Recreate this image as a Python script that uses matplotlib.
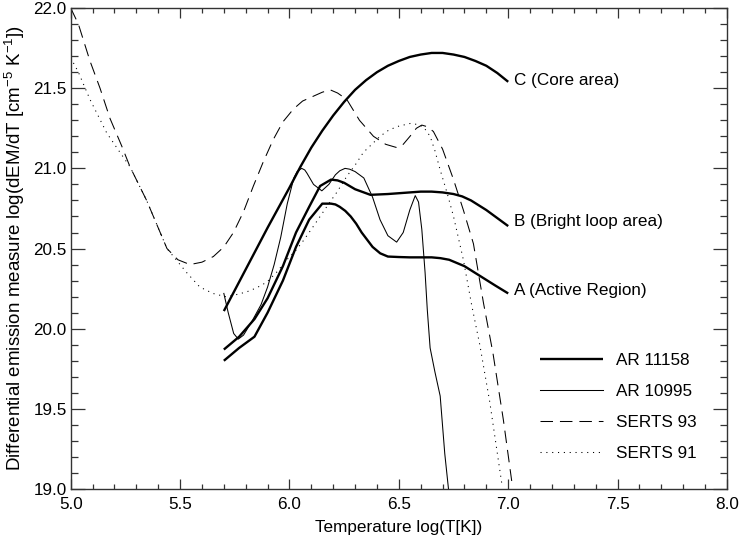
import matplotlib
matplotlib.use("Agg")
import matplotlib.pyplot as plt
from matplotlib.ticker import MultipleLocator, FormatStrFormatter

plt.rcParams['font.family'] = ['Liberation Sans', 'DejaVu Sans']
plt.rcParams['lines.scale_dashes'] = False
plt.rcParams['mathtext.fontset'] = 'custom'
plt.rcParams['mathtext.rm'] = 'Liberation Sans'
plt.rcParams['mathtext.it'] = 'Liberation Sans'

# ---- data ----
c_x = [5.70, 5.75, 5.80, 5.85, 5.90, 5.95, 6.00, 6.05, 6.10, 6.15, 6.20, 6.25, 6.30, 6.35, 6.40,
       6.45, 6.50, 6.55, 6.60, 6.65, 6.70, 6.75, 6.80, 6.85, 6.90, 6.95, 7.00]
c_y = [20.11, 20.24, 20.37, 20.50, 20.63, 20.755, 20.88, 21.01, 21.13, 21.235, 21.33, 21.415, 21.49,
       21.55, 21.60, 21.64, 21.67, 21.695, 21.71, 21.72, 21.72, 21.71, 21.695, 21.67, 21.64, 21.595, 21.54]

b_x = [5.70, 5.77, 5.84, 5.90, 5.97, 6.03, 6.09, 6.14, 6.19, 6.22, 6.25, 6.30, 6.37, 6.45, 6.55,
       6.60, 6.65, 6.70, 6.75, 6.79, 6.83, 6.865, 6.90, 6.95, 7.00]
b_y = [19.87, 19.95, 20.06, 20.19, 20.39, 20.60, 20.76, 20.89, 20.93, 20.925, 20.91, 20.87, 20.835,
       20.84, 20.85, 20.855, 20.855, 20.85, 20.84, 20.825, 20.80, 20.77, 20.74, 20.69, 20.64]

a_x = [5.70, 5.77, 5.84, 5.90, 5.97, 6.03, 6.09, 6.15, 6.19, 6.21, 6.23, 6.255, 6.28, 6.305, 6.33,
       6.355, 6.38, 6.415, 6.45, 6.50, 6.55, 6.60, 6.65, 6.69, 6.73, 6.765, 6.80, 6.835, 6.87, 6.905,
       6.94, 6.97, 7.00]
a_y = [19.80, 19.88, 19.95, 20.10, 20.30, 20.51, 20.68, 20.78, 20.78, 20.775, 20.76, 20.735, 20.70,
       20.655, 20.60, 20.555, 20.51, 20.47, 20.45, 20.447, 20.445, 20.445, 20.445, 20.44, 20.43, 20.41,
       20.39, 20.36, 20.33, 20.30, 20.27, 20.245, 20.22]

ar10995_x = [5.70, 5.72, 5.745, 5.766, 5.79, 5.83, 5.87, 5.90, 5.93, 5.96, 5.99, 6.02, 6.035, 6.056,
             6.07, 6.08, 6.11, 6.148, 6.18, 6.21, 6.23, 6.254, 6.275, 6.30, 6.34, 6.38, 6.414, 6.45,
             6.49, 6.52, 6.55, 6.575, 6.59, 6.605, 6.62, 6.63, 6.643, 6.665, 6.689, 6.71, 6.727]
ar10995_y = [20.22, 20.10, 19.97, 19.935, 19.96, 20.05, 20.15, 20.26, 20.40, 20.57, 20.78, 20.94, 20.98,
             21.00, 20.99, 20.97, 20.90, 20.86, 20.90, 20.96, 20.985, 21.00, 20.995, 20.98, 20.94, 20.82,
             20.68, 20.58, 20.54, 20.60, 20.74, 20.83, 20.79, 20.62, 20.35, 20.12, 19.88, 19.73, 19.58,
             19.22, 19.00]

serts93_x = [5.00, 5.035, 5.088, 5.134, 5.18, 5.233, 5.271, 5.347, 5.44, 5.49, 5.545, 5.60, 5.652,
             5.70, 5.744, 5.79, 5.835, 5.88, 5.926, 5.97, 6.018, 6.06, 6.109, 6.15, 6.186, 6.22, 6.262,
             6.32, 6.384, 6.44, 6.49, 6.52, 6.551, 6.58, 6.605, 6.63, 6.658, 6.70, 6.75, 6.795, 6.841,
             6.887, 6.93, 6.978, 7.016]
serts93_y = [22.00, 21.90, 21.67, 21.50, 21.31, 21.14, 21.01, 20.80, 20.50, 20.43, 20.40, 20.415, 20.45,
             20.51, 20.60, 20.73, 20.89, 21.04, 21.18, 21.29, 21.37, 21.42, 21.45, 21.475, 21.49, 21.47,
             21.43, 21.30, 21.20, 21.15, 21.13, 21.15, 21.20, 21.25, 21.27, 21.26, 21.23, 21.12, 20.93,
             20.74, 20.53, 20.16, 19.85, 19.43, 19.05]

serts91_x = [5.00, 5.035, 5.088, 5.165, 5.225, 5.271, 5.347, 5.44, 5.47, 5.53, 5.59, 5.65, 5.706,
             5.75, 5.805, 5.85, 5.896, 5.94, 5.988, 6.03, 6.064, 6.10, 6.14, 6.18, 6.216, 6.262, 6.30,
             6.338, 6.384, 6.414, 6.45, 6.49, 6.551, 6.58, 6.612, 6.643, 6.665, 6.689, 6.72, 6.75,
             6.795, 6.834, 6.87, 6.916, 6.97]
serts91_y = [21.69, 21.60, 21.43, 21.22, 21.10, 21.01, 20.80, 20.50, 20.45, 20.35, 20.26, 20.22, 20.20,
             20.21, 20.23, 20.255, 20.29, 20.35, 20.43, 20.49, 20.55, 20.62, 20.70, 20.78, 20.85, 20.95,
             21.02, 21.10, 21.16, 21.20, 21.235, 21.26, 21.28, 21.275, 21.26, 21.20, 21.11, 20.99, 20.85,
             20.70, 20.43, 20.14, 19.90, 19.54, 19.04]

labels = ["AR 11158", "AR 10995", "SERTS 93", "SERTS 91"]
region_labels = ["C (Core area)", "B (Bright loop area)", "A (Active Region)"]

# ---- figure ----
FS = 12.3
fig = plt.figure(figsize=(7.39, 5.41), dpi=100)
ax = fig.add_axes([0.0957, 0.0961, 0.888, 0.889])

thick = 1.7
thin = 0.75
l1, = ax.plot(c_x, c_y, color='black', lw=thick, solid_capstyle='butt', solid_joinstyle='round')
ax.plot(b_x, b_y, color='black', lw=thick, solid_capstyle='butt', solid_joinstyle='round')
ax.plot(a_x, a_y, color='black', lw=thick, solid_capstyle='butt', solid_joinstyle='round')
l2, = ax.plot(ar10995_x, ar10995_y, color='black', lw=thin)
l3, = ax.plot(serts93_x, serts93_y, color='black', lw=thin, dashes=(9, 5))
l4, = ax.plot(serts91_x, serts91_y, color='black', lw=thin, dashes=(0.8, 3.4))

ends = [(c_x[-1], c_y[-1], 1.0), (b_x[-1], b_y[-1], 3.0), (a_x[-1], a_y[-1], 2.0)]
for (ex, ey, dy), txt in zip(ends, region_labels):
    ax.annotate(txt, xy=(ex, ey), xytext=(4.5, dy), textcoords='offset points',
                ha='left', va='center', fontsize=FS)

ax.set_xlim(5.0, 8.0)
ax.set_ylim(19.0, 22.0)
ax.xaxis.set_major_locator(MultipleLocator(0.5))
ax.xaxis.set_minor_locator(MultipleLocator(0.1))
ax.yaxis.set_major_locator(MultipleLocator(0.5))
ax.yaxis.set_minor_locator(MultipleLocator(0.1))
ax.xaxis.set_major_formatter(FormatStrFormatter('%.1f'))
ax.yaxis.set_major_formatter(FormatStrFormatter('%.1f'))

spine_col = '#333333'
for s in ax.spines.values():
    s.set_color(spine_col)
    s.set_linewidth(1.0)
ax.tick_params(axis='x', which='major', direction='in', length=7.2, width=0.9, top=True,
               pad=6.0, labelsize=FS, color=spine_col)
ax.tick_params(axis='x', which='minor', direction='in', length=3.6, width=0.9, top=True, color=spine_col)
ax.tick_params(axis='y', which='major', direction='in', length=10, width=0.9, right=True,
               pad=3, labelsize=FS, color=spine_col)
ax.tick_params(axis='y', which='minor', direction='in', length=5, width=0.9, right=True, color=spine_col)

ax.set_xlabel("Temperature log(T[K])", fontsize=FS)
ax.xaxis.set_label_coords(0.5, -0.064)
ax.set_ylabel(r"Differential emission measure log(dEM/dT [cm$^{-5}$ K$^{-1}$])", fontsize=13.5,
              va='center')
ax.yaxis.set_label_coords(-0.085, 0.5)

leg = ax.legend([l1, l2, l3, l4], labels, loc='upper left', bbox_to_anchor=(0.7154, 0.2834),
                frameon=False, borderpad=0, borderaxespad=0, handlelength=3.69,
                handletextpad=0.76, labelspacing=0.95, fontsize=FS)

fig.savefig("out.png", dpi=100)
